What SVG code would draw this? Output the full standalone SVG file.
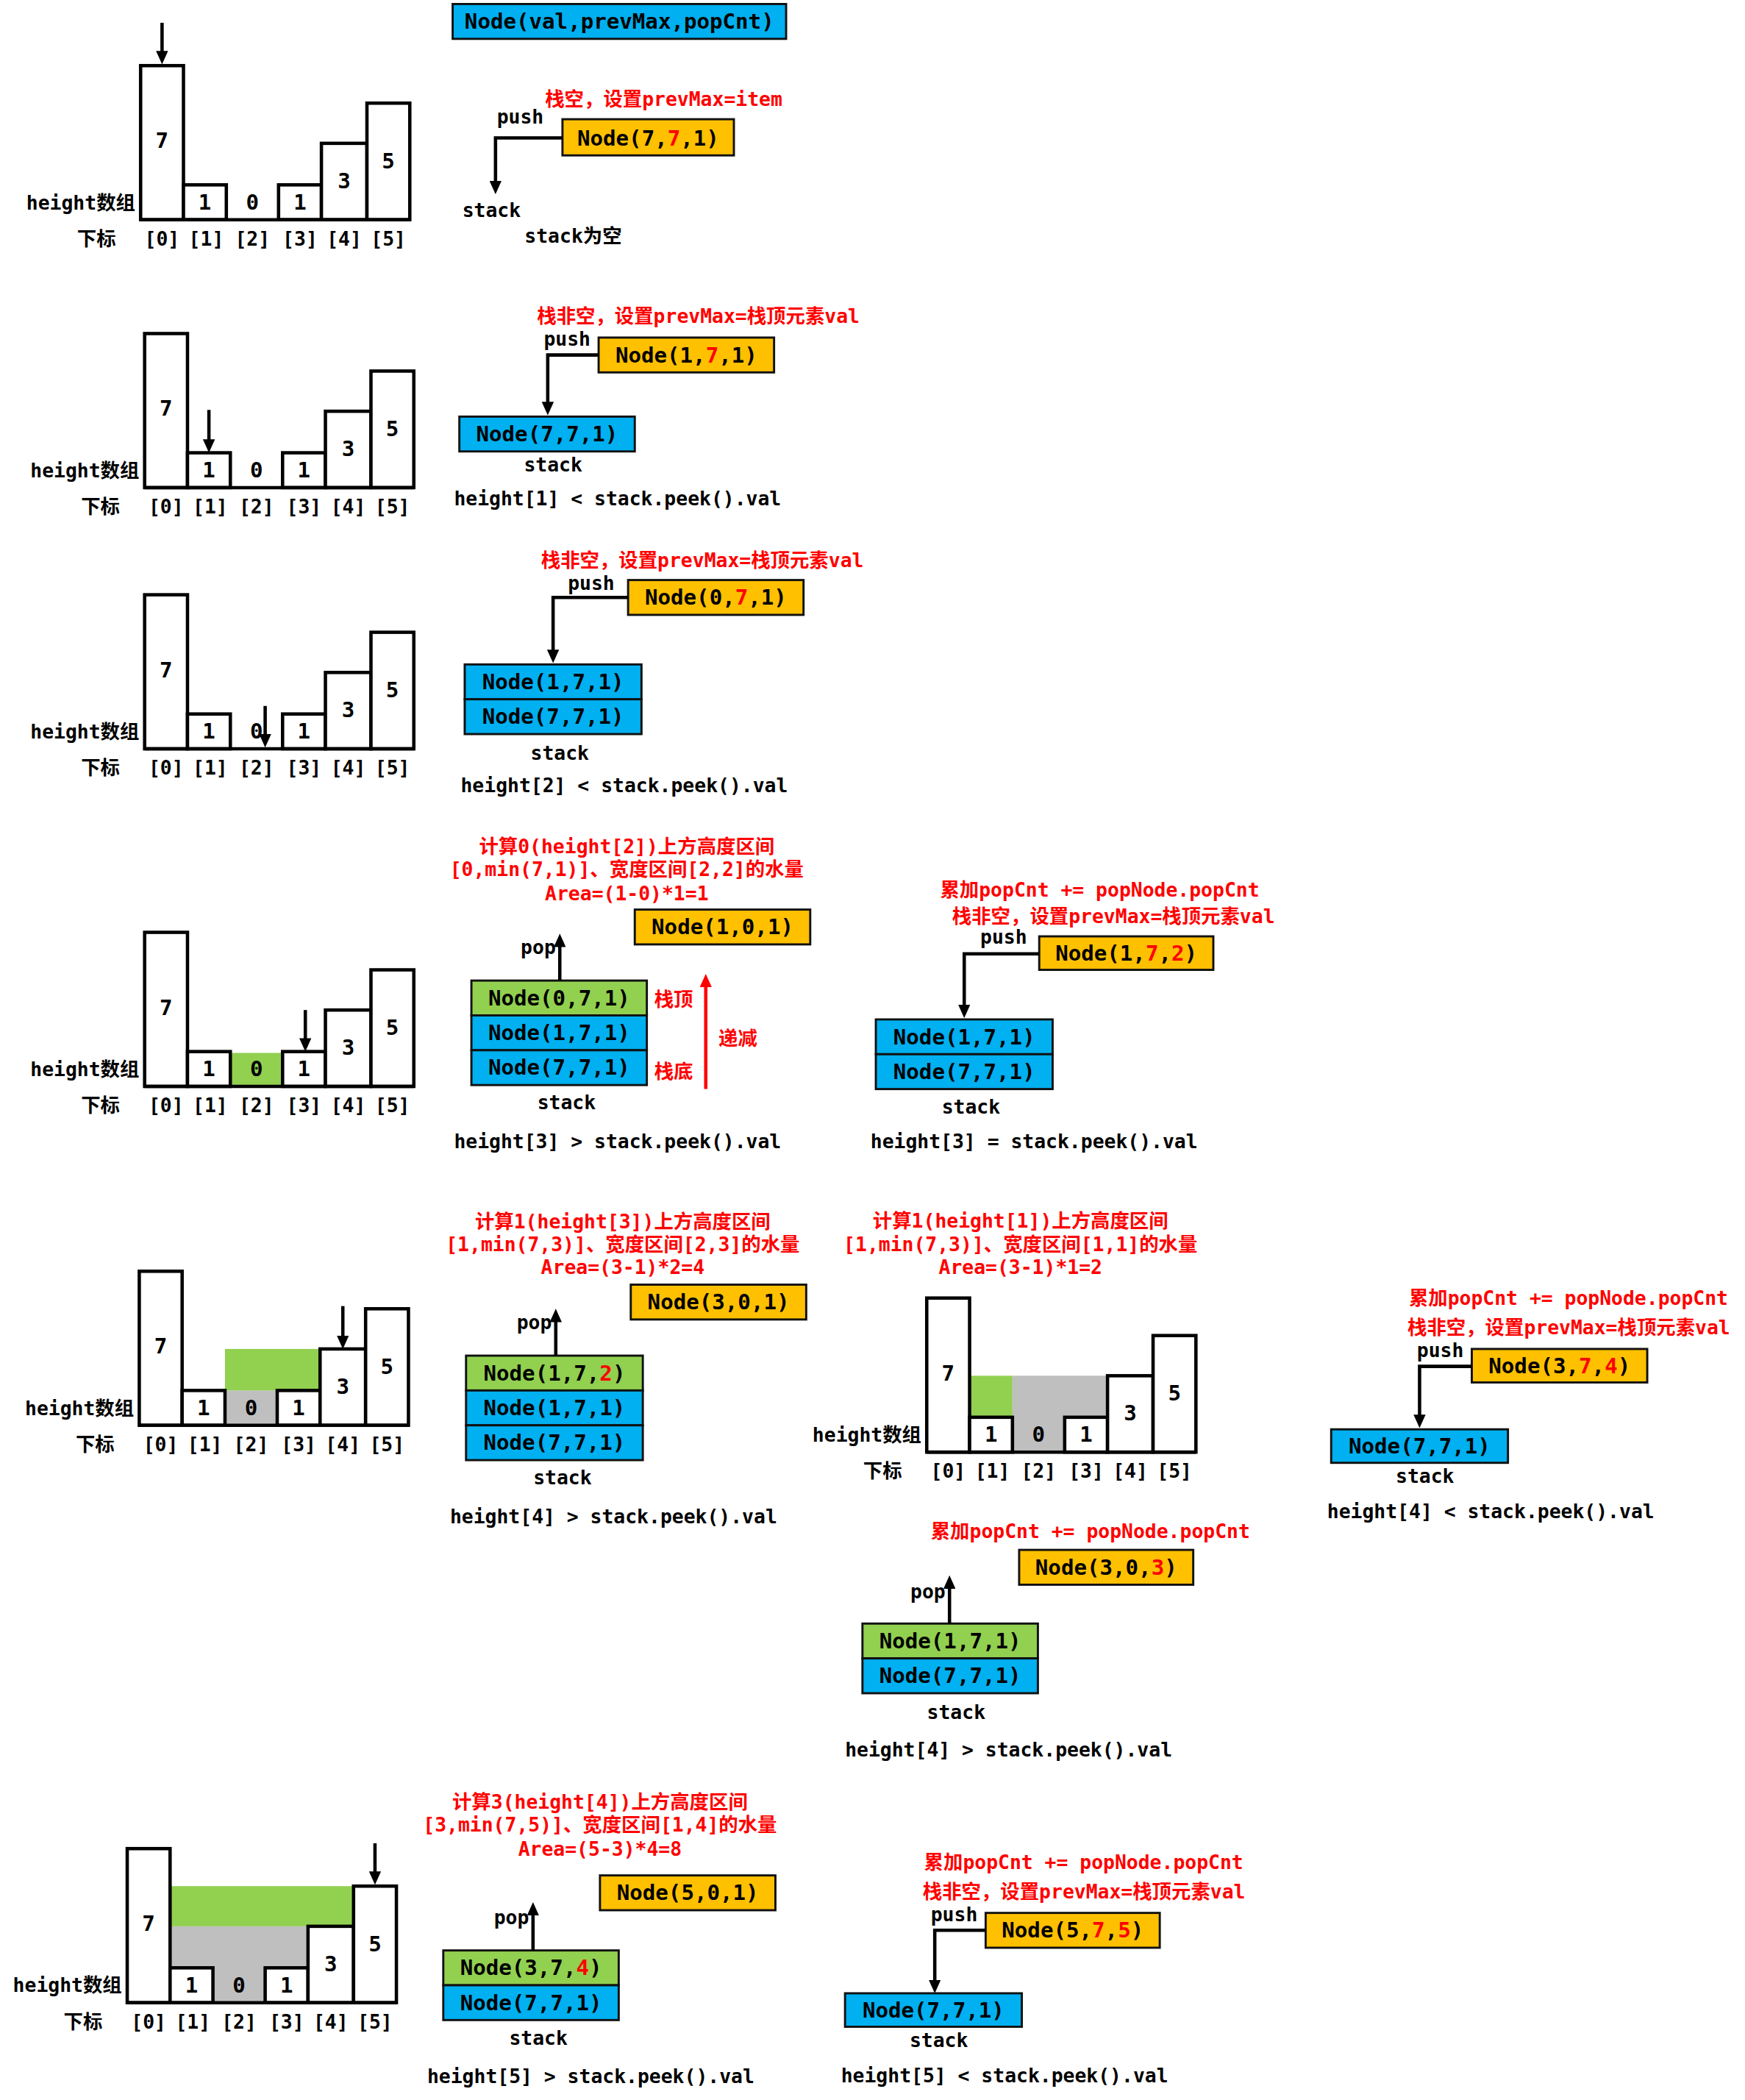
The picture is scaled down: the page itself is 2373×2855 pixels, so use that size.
<svg xmlns="http://www.w3.org/2000/svg" xmlns:xlink="http://www.w3.org/1999/xlink" width="2373" height="2855" viewBox="0 0 2373 2855">
<style>
.t{font-family:"DejaVu Sans Mono","Noto Sans CJK SC",monospace;font-weight:bold;dominant-baseline:central;fill:#000}
.s{font-size:14.5px}
.n{font-size:16px}
.m{text-anchor:middle}
.e{text-anchor:end}
.r{fill:#f00}
.bar{fill:#fff;stroke:#000;stroke-width:2.5}
.base{stroke:#000;stroke-width:2.5}
.box{stroke:#111;stroke-width:1.6}
.blue{fill:#00B0F0}
.org{fill:#FFC000}
.grn{fill:#92D050}
.gry{fill:#BFBFBF}
.conn{fill:none;stroke:#000;stroke-width:2.5}
.rconn{fill:none;stroke:#f00;stroke-width:2.5}
</style>
<defs>
<marker id="ah" viewBox="0 0 10 9" refX="1" refY="4.5" markerWidth="10" markerHeight="9" markerUnits="userSpaceOnUse" orient="auto"><path d="M0,0 L10,4.5 L0,9 z" fill="#000"/></marker>
<marker id="ahr" viewBox="0 0 10 9" refX="1" refY="4.5" markerWidth="10" markerHeight="9" markerUnits="userSpaceOnUse" orient="auto"><path d="M0,0 L10,4.5 L0,9 z" fill="#f00"/></marker>
<g id="bars">
<rect class="bar" x="0" y="-115" width="32" height="115"/>
<rect class="bar" x="32" y="-26" width="32" height="26"/>
<rect class="bar" x="103" y="-26" width="32" height="26"/>
<rect class="bar" x="135" y="-57" width="34" height="57"/>
<rect class="bar" x="169" y="-87" width="32" height="87"/>
<line class="base" x1="0" y1="0" x2="201" y2="0"/>
<text class="t n m" x="16" y="-59">7</text>
<text class="t n m" x="48" y="-13">1</text>
<text class="t n m" x="83.5" y="-13">0</text>
<text class="t n m" x="119" y="-13">1</text>
<text class="t n m" x="152" y="-29">3</text>
<text class="t n m" x="185" y="-44">5</text>
<text class="t s e" x="-4" y="-13">height数组</text>
<text class="t s m" x="-33" y="14">下标</text>
<text class="t s m" x="16" y="14">[0]</text>
<text class="t s m" x="49" y="14">[1]</text>
<text class="t s m" x="83.5" y="14">[2]</text>
<text class="t s m" x="119" y="14">[3]</text>
<text class="t s m" x="152" y="14">[4]</text>
<text class="t s m" x="185" y="14">[5]</text>
</g>
</defs>
<g transform="scale(1.82118)">
<g id="header"><rect class="box blue" x="338" y="3" width="249" height="26"/><text class="t n m" x="462.5" y="16">Node(val,prevMax,popCnt)</text></g>

<!-- Panel 1 -->
<g id="chart1"><use xlink:href="#bars" transform="translate(105,164)"/></g>
<g id="p1-text">
<text class="t s r" x="407" y="74">栈空，设置prevMax=item</text>
<text class="t s" x="371" y="87">push</text>
<text class="t s m" x="367" y="157">stack</text>
<text class="t s m" x="428" y="176">stack为空</text>
</g>
<g id="p1-node"><rect class="box org" x="420" y="89" width="128" height="27"/><text class="t n m" x="484" y="103">Node(7,<tspan class="r">7</tspan>,1)</text></g>

<!-- Panel 2 -->
<g id="chart2"><use xlink:href="#bars" transform="translate(108,364)"/></g>
<g id="p2-text">
<text class="t s r" x="401" y="236">栈非空，设置prevMax=栈顶元素val</text>
<text class="t s" x="406" y="253">push</text>
<text class="t s m" x="413" y="347">stack</text>
<text class="t s" x="339" y="372">height[1] &lt; stack.peek().val</text>
</g>
<g id="p2-push"><rect class="box org" x="447" y="252" width="131" height="26"/><text class="t n m" x="512.5" y="265">Node(1,<tspan class="r">7</tspan>,1)</text></g>
<g id="p2-stack"><rect class="box blue" x="343" y="311" width="131" height="26"/><text class="t n m" x="408.5" y="324">Node(7,7,1)</text></g>

<!-- Panel 3 -->
<g id="chart3"><use xlink:href="#bars" transform="translate(108,559)"/></g>
<g id="p3-text">
<text class="t s r" x="404" y="418">栈非空，设置prevMax=栈顶元素val</text>
<text class="t s" x="424" y="435">push</text>
<text class="t s m" x="418" y="562">stack</text>
<text class="t s" x="344" y="586">height[2] &lt; stack.peek().val</text>
</g>
<g id="p3-push"><rect class="box org" x="469" y="433" width="131" height="26"/><text class="t n m" x="534.5" y="446">Node(0,<tspan class="r">7</tspan>,1)</text></g>
<g id="p3-stack1"><rect class="box blue" x="347" y="496" width="132" height="26"/><text class="t n m" x="413" y="509">Node(1,7,1)</text></g>
<g id="p3-stack2"><rect class="box blue" x="347" y="522" width="132" height="26"/><text class="t n m" x="413" y="535">Node(7,7,1)</text></g>

<!-- Panel 4 -->
<g id="chart4"><rect class="grn" x="172" y="786" width="39" height="25"/><use xlink:href="#bars" transform="translate(108,811)"/></g>
<g id="p4-text">
<text class="t s r m" x="468" y="632">计算0(height[2])上方高度区间</text>
<text class="t s r m" x="468" y="649">[0,min(7,1)]、宽度区间[2,2]的水量</text>
<text class="t s r m" x="468" y="667">Area=(1-0)*1=1</text>
<text class="t s e" x="415" y="707">pop</text>
<text class="t s r m" x="503" y="746">栈顶</text>
<text class="t s r m" x="503" y="800">栈底</text>
<text class="t s r m" x="551" y="775">递减</text>
<text class="t s m" x="423" y="823">stack</text>
<text class="t s" x="339" y="852">height[3] &gt; stack.peek().val</text>
</g>
<g id="p4-popped"><rect class="box org" x="474" y="679" width="131" height="26"/><text class="t n m" x="539.5" y="692">Node(1,0,1)</text></g>
<g id="p4-stack1"><rect class="box grn" x="352" y="732" width="131" height="26"/><text class="t n m" x="417.5" y="745">Node(0,7,1)</text></g>
<g id="p4-stack2"><rect class="box blue" x="352" y="758" width="131" height="26"/><text class="t n m" x="417.5" y="771">Node(1,7,1)</text></g>
<g id="p4-stack3"><rect class="box blue" x="352" y="784" width="131" height="26"/><text class="t n m" x="417.5" y="797">Node(7,7,1)</text></g>

<g id="p4b-text">
<text class="t s r" x="702" y="664">累加popCnt += popNode.popCnt</text>
<text class="t s r" x="711" y="684">栈非空，设置prevMax=栈顶元素val</text>
<text class="t s" x="732" y="699">push</text>
<text class="t s m" x="725" y="826">stack</text>
<text class="t s" x="650" y="852">height[3] = stack.peek().val</text>
</g>
<g id="p4b-push"><rect class="box org" x="776" y="699" width="130" height="25"/><text class="t n m" x="841" y="711.5">Node(1,<tspan class="r">7</tspan>,<tspan class="r">2</tspan>)</text></g>
<g id="p4b-stack1"><rect class="box blue" x="654" y="761" width="132" height="26"/><text class="t n m" x="720" y="774">Node(1,7,1)</text></g>
<g id="p4b-stack2"><rect class="box blue" x="654" y="787" width="132" height="26"/><text class="t n m" x="720" y="800">Node(7,7,1)</text></g>

<!-- Panel 5 -->
<g id="chart5"><rect class="gry" x="168" y="1038" width="40" height="26"/><rect class="grn" x="168" y="1007" width="72" height="31"/><use xlink:href="#bars" transform="translate(104,1064)"/></g>
<g id="p5-text">
<text class="t s r m" x="465" y="912">计算1(height[3])上方高度区间</text>
<text class="t s r m" x="465" y="929">[1,min(7,3)]、宽度区间[2,3]的水量</text>
<text class="t s r m" x="465" y="946">Area=(3-1)*2=4</text>
<text class="t s e" x="412" y="987">pop</text>
<text class="t s m" x="420" y="1103">stack</text>
<text class="t s" x="336" y="1132">height[4] &gt; stack.peek().val</text>
</g>
<g id="p5-popped"><rect class="box org" x="471" y="959" width="131" height="26"/><text class="t n m" x="536.5" y="972">Node(3,0,1)</text></g>
<g id="p5-stack1"><rect class="box grn" x="348" y="1012" width="132" height="26"/><text class="t n m" x="414" y="1025">Node(1,7,<tspan class="r">2</tspan>)</text></g>
<g id="p5-stack2"><rect class="box blue" x="348" y="1038" width="132" height="26"/><text class="t n m" x="414" y="1051">Node(1,7,1)</text></g>
<g id="p5-stack3"><rect class="box blue" x="348" y="1064" width="132" height="26"/><text class="t n m" x="414" y="1077">Node(7,7,1)</text></g>

<g id="chart5b"><rect class="gry" x="756" y="1027" width="71" height="57"/><rect class="grn" x="724" y="1027" width="32" height="31"/><use xlink:href="#bars" transform="translate(692,1084)"/></g>
<g id="p5b-text">
<text class="t s r m" x="762" y="911">计算1(height[1])上方高度区间</text>
<text class="t s r m" x="762" y="929">[1,min(7,3)]、宽度区间[1,1]的水量</text>
<text class="t s r m" x="762" y="946">Area=(3-1)*1=2</text>
<text class="t s r" x="695" y="1143">累加popCnt += popNode.popCnt</text>
<text class="t s e" x="706" y="1188">pop</text>
<text class="t s m" x="714" y="1278">stack</text>
<text class="t s" x="631" y="1306">height[4] &gt; stack.peek().val</text>
</g>
<g id="p5b-popped"><rect class="box org" x="761" y="1157" width="130" height="26"/><text class="t n m" x="826" y="1170">Node(3,0,<tspan class="r">3</tspan>)</text></g>
<g id="p5b-stack1"><rect class="box grn" x="644" y="1212" width="131" height="26"/><text class="t n m" x="709.5" y="1225">Node(1,7,1)</text></g>
<g id="p5b-stack2"><rect class="box blue" x="644" y="1238" width="131" height="26"/><text class="t n m" x="709.5" y="1251">Node(7,7,1)</text></g>

<g id="p5c-text">
<text class="t s r" x="1052" y="969">累加popCnt += popNode.popCnt</text>
<text class="t s r" x="1051" y="991">栈非空，设置prevMax=栈顶元素val</text>
<text class="t s" x="1058" y="1008">push</text>
<text class="t s m" x="1064" y="1102">stack</text>
<text class="t s" x="991" y="1128">height[4] &lt; stack.peek().val</text>
</g>
<g id="p5c-push"><rect class="box org" x="1099" y="1007" width="131" height="25"/><text class="t n m" x="1164.5" y="1019.5">Node(3,<tspan class="r">7</tspan>,<tspan class="r">4</tspan>)</text></g>
<g id="p5c-stack"><rect class="box blue" x="994" y="1067" width="132" height="25"/><text class="t n m" x="1060" y="1079.5">Node(7,7,1)</text></g>

<!-- Panel 6 -->
<g id="chart6"><rect class="gry" x="127" y="1438" width="104" height="57"/><rect class="grn" x="127" y="1408" width="137" height="30"/><use xlink:href="#bars" transform="translate(95,1495)"/></g>
<g id="p6-text">
<text class="t s r m" x="448" y="1345">计算3(height[4])上方高度区间</text>
<text class="t s r m" x="448" y="1362">[3,min(7,5)]、宽度区间[1,4]的水量</text>
<text class="t s r m" x="448" y="1380">Area=(5-3)*4=8</text>
<text class="t s e" x="395" y="1431">pop</text>
<text class="t s m" x="402" y="1521">stack</text>
<text class="t s" x="319" y="1550">height[5] &gt; stack.peek().val</text>
</g>
<g id="p6-popped"><rect class="box org" x="448" y="1400" width="131" height="26"/><text class="t n m" x="513.5" y="1413">Node(5,0,1)</text></g>
<g id="p6-stack1"><rect class="box grn" x="331" y="1456" width="131" height="26"/><text class="t n m" x="396.5" y="1469">Node(3,7,<tspan class="r">4</tspan>)</text></g>
<g id="p6-stack2"><rect class="box blue" x="331" y="1482" width="131" height="26"/><text class="t n m" x="396.5" y="1495">Node(7,7,1)</text></g>

<g id="p6b-text">
<text class="t s r" x="690" y="1390">累加popCnt += popNode.popCnt</text>
<text class="t s r" x="689" y="1412">栈非空，设置prevMax=栈顶元素val</text>
<text class="t s" x="695" y="1429">push</text>
<text class="t s m" x="701" y="1523">stack</text>
<text class="t s" x="628" y="1549">height[5] &lt; stack.peek().val</text>
</g>
<g id="p6b-push"><rect class="box org" x="736" y="1428" width="130" height="26"/><text class="t n m" x="801" y="1441">Node(5,<tspan class="r">7</tspan>,<tspan class="r">5</tspan>)</text></g>
<g id="p6b-stack"><rect class="box blue" x="631" y="1488" width="132" height="25"/><text class="t n m" x="697" y="1500.5">Node(7,7,1)</text></g>

<!-- Connectors -->
<g id="connectors">
<path class="conn" d="M121,17 V39" marker-end="url(#ah)"/>
<path class="conn" d="M156,306 V329" marker-end="url(#ah)"/>
<path class="conn" d="M198,527 V549" marker-end="url(#ah)"/>
<path class="conn" d="M228,754 V776" marker-end="url(#ah)"/>
<path class="conn" d="M256,975 V998" marker-end="url(#ah)"/>
<path class="conn" d="M280,1376 V1398" marker-end="url(#ah)"/>
<path class="conn" d="M420,103 H370 V136" marker-end="url(#ah)"/>
<path class="conn" d="M447,265 H409 V301" marker-end="url(#ah)"/>
<path class="conn" d="M469,446 H413 V486" marker-end="url(#ah)"/>
<path class="conn" d="M418,732 V706" marker-end="url(#ah)"/>
<path class="rconn" d="M527,813 V736" marker-end="url(#ahr)"/>
<path class="conn" d="M776,712 H720 V751" marker-end="url(#ah)"/>
<path class="conn" d="M415,1012 V986" marker-end="url(#ah)"/>
<path class="conn" d="M709,1212 V1185" marker-end="url(#ah)"/>
<path class="conn" d="M1099,1020 H1060 V1057" marker-end="url(#ah)"/>
<path class="conn" d="M398,1456 V1429" marker-end="url(#ah)"/>
<path class="conn" d="M736,1441 H698 V1479" marker-end="url(#ah)"/>
</g>
</g>
</svg>
